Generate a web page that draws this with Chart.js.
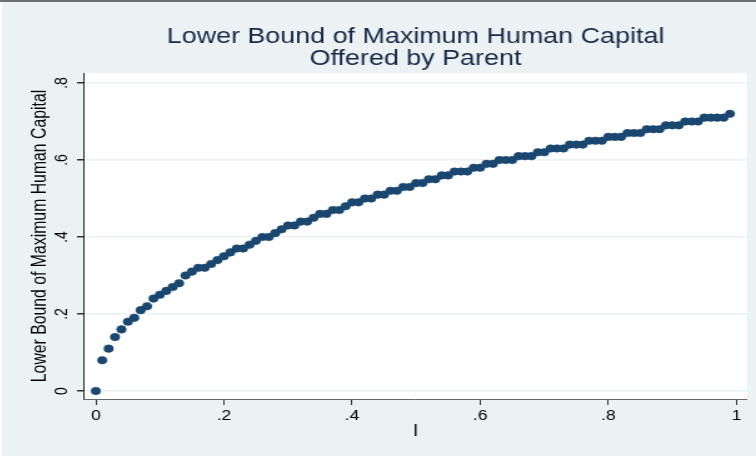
<!DOCTYPE html>
<html>
<head>
<meta charset="utf-8">
<script src="https://cdn.jsdelivr.net/npm/chart.js@4"></script>
<style>
  html, body { margin: 0; padding: 0; background: #ffffff; }
  #frame { width: 756px; height: 456px; box-sizing: border-box; border-top: 2px solid #6f6f6f; padding-left: 2px; }
  #chart { display: block; }
</style>
</head>
<body>
<div id="frame">
  <canvas id="chart" width="603" height="454" style="width:754px;height:454px"></canvas>
</div>
<script>
// the reference is a Stata graph stretched sideways, so the canvas is drawn narrow and widened by css
var titleLines = ["Lower Bound of Maximum Human Capital", "Offered by Parent"];
var xTitle = "l";
var yTitle = "Lower Bound of Maximum Human Capital";

var xTicks = [0, 0.2, 0.4, 0.6, 0.8, 1];
var yTicks = [0, 0.2, 0.4, 0.6, 0.8];

var lValues = [
    0.00, 0.01, 0.02, 0.03, 0.04, 0.05, 0.06, 0.07, 0.08, 0.09,
    0.10, 0.11, 0.12, 0.13, 0.14, 0.15, 0.16, 0.17, 0.18, 0.19,
    0.20, 0.21, 0.22, 0.23, 0.24, 0.25, 0.26, 0.27, 0.28, 0.29,
    0.30, 0.31, 0.32, 0.33, 0.34, 0.35, 0.36, 0.37, 0.38, 0.39,
    0.40, 0.41, 0.42, 0.43, 0.44, 0.45, 0.46, 0.47, 0.48, 0.49,
    0.50, 0.51, 0.52, 0.53, 0.54, 0.55, 0.56, 0.57, 0.58, 0.59,
    0.60, 0.61, 0.62, 0.63, 0.64, 0.65, 0.66, 0.67, 0.68, 0.69,
    0.70, 0.71, 0.72, 0.73, 0.74, 0.75, 0.76, 0.77, 0.78, 0.79,
    0.80, 0.81, 0.82, 0.83, 0.84, 0.85, 0.86, 0.87, 0.88, 0.89,
    0.90, 0.91, 0.92, 0.93, 0.94, 0.95, 0.96, 0.97, 0.98, 0.99
];

var boundValues = [
    0.00, 0.08, 0.11, 0.14, 0.16, 0.18, 0.19, 0.21, 0.22, 0.24,
    0.25, 0.26, 0.27, 0.28, 0.30, 0.31, 0.32, 0.32, 0.33, 0.34,
    0.35, 0.36, 0.37, 0.37, 0.38, 0.39, 0.40, 0.40, 0.41, 0.42,
    0.43, 0.43, 0.44, 0.44, 0.45, 0.46, 0.46, 0.47, 0.47, 0.48,
    0.49, 0.49, 0.50, 0.50, 0.51, 0.51, 0.52, 0.52, 0.53, 0.53,
    0.54, 0.54, 0.55, 0.55, 0.56, 0.56, 0.57, 0.57, 0.57, 0.58,
    0.58, 0.59, 0.59, 0.60, 0.60, 0.60, 0.61, 0.61, 0.61, 0.62,
    0.62, 0.63, 0.63, 0.63, 0.64, 0.64, 0.64, 0.65, 0.65, 0.65,
    0.66, 0.66, 0.66, 0.67, 0.67, 0.67, 0.68, 0.68, 0.68, 0.69,
    0.69, 0.69, 0.70, 0.70, 0.70, 0.71, 0.71, 0.71, 0.71, 0.72
];

var BG = "#eaf2f3";
var MARKER = "#1a476f";
var FONT = "'Liberation Sans', Arial, sans-serif";

Chart.defaults.font.family = FONT;

function stataLabel(v) {
    var s = String(Number(v.toFixed(1)));
    return s.replace(/^0\./, ".");
}

function fixedTicks(list) {
    return function (scale) {
        scale.ticks = list.map(function (v) { return { value: v }; });
    };
}

var backdrop = {
    id: "backdrop",
    beforeDraw: function (chart) {
        var ctx = chart.ctx, a = chart.chartArea;
        ctx.save();
        ctx.fillStyle = BG;
        ctx.fillRect(0, 0, chart.width, chart.height);
        ctx.fillStyle = "#ffffff";
        ctx.fillRect(a.left, a.top, a.right - a.left, a.bottom - a.top);
        ctx.restore();
    }
};

var points = lValues.map(function (x, i) { return { x: x, y: boundValues[i] }; });

new Chart(document.getElementById("chart"), {
    type: "scatter",
    data: {
        datasets: [{
            label: yTitle,
            data: points,
            backgroundColor: MARKER,
            borderColor: MARKER,
            borderWidth: 0.5,
            pointRadius: 3.8
        }]
    },
    options: {
        responsive: false,
        animation: false,
        events: [],
        layout: { padding: { left: 0, right: 7.2, top: 0, bottom: 0 } },
        plugins: {
            legend: { display: false },
            tooltip: { enabled: false },
            title: {
                display: true,
                text: titleLines,
                fullSize: false,
                color: "#1a2848",
                font: { size: 21.5, weight: "normal", lineHeight: 1 },
                padding: { top: 24.5, bottom: 3.5 }
            }
        },
        scales: {
            x: {
                type: "linear",
                min: -0.0184,
                max: 1.0166,
                afterBuildTicks: fixedTicks(xTicks),
                afterFit: function (s) { s.height = 57; },
                grid: { drawOnChartArea: false, tickLength: 6, tickColor: "#333333", lineWidth: 1 },
                border: { color: "#666666", width: 1 },
                ticks: {
                    color: "#000000",
                    font: { size: 14 },
                    padding: 3,
                    maxRotation: 0,
                    callback: stataLabel
                },
                title: {
                    display: true,
                    text: xTitle,
                    color: "#000000",
                    font: { size: 15.8 },
                    padding: { top: 0, bottom: 14.5 }
                }
            },
            y: {
                type: "linear",
                min: -0.0208,
                max: 0.826,
                afterBuildTicks: fixedTicks(yTicks),
                afterFit: function (s) { s.width = 65.6; },
                grid: { color: BG, lineWidth: 1.5, tickLength: 5.6, tickColor: "#333333" },
                border: { color: "#222222", width: 1 },
                ticks: {
                    color: "#000000",
                    font: { size: 14 },
                    padding: 6,
                    minRotation: 90,
                    maxRotation: 90,
                    crossAlign: "center",
                    callback: stataLabel
                },
                title: {
                    display: true,
                    text: yTitle,
                    color: "#000000",
                    font: { size: 15.8 },
                    padding: { top: 20.9, bottom: 0 }
                }
            }
        }
    },
    plugins: [backdrop]
});
</script>
</body>
</html>
